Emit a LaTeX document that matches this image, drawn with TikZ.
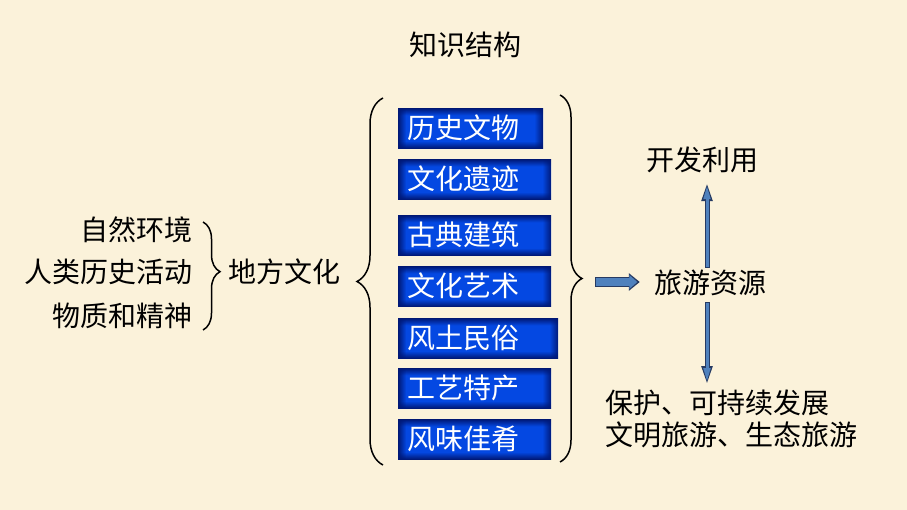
\documentclass[tikz,border=0pt]{standalone}
\usepackage{fontspec}
\newfontfamily\cjk{Noto Sans CJK SC}
\usetikzlibrary{arrows.meta,decorations.pathreplacing,fadings,calc}

\definecolor{paper}{RGB}{251,242,218}
\definecolor{boxedge}{RGB}{0,24,118}
\definecolor{boxmid}{RGB}{4,72,226}
\definecolor{arrowfill}{RGB}{79,129,189}
\definecolor{arrowline}{RGB}{38,58,98}

\pgfdeclareverticalshading{boxshade}{100bp}{color(0bp)=(boxedge); color(25bp)=(boxedge); color(34bp)=(boxmid); color(66bp)=(boxmid); color(75bp)=(boxedge); color(100bp)=(boxedge)}
\tikzfading[name=edgefadeL, left color=transparent!0, right color=transparent!100]
\tikzfading[name=edgefadeR, left color=transparent!100, right color=transparent!0]

\begin{document}
\begin{tikzpicture}[
    x=1pt, y=-1pt,
    font=\cjk\fontsize{28}{32}\selectfont,
    txt/.style={inner sep=0pt, text=black},
    culture/.style={shading=boxshade, anchor=north west, minimum height=40pt,
        inner xsep=9pt, inner ysep=0pt, align=left, text=white},
    bracket/.style={decorate, decoration={brace, amplitude=#1}, line width=1.5pt},
    vshaft/.style={draw=arrowline, line width=5pt, -{Triangle[length=19pt, width=10pt]}},
    vcore/.style={draw=arrowfill, line width=3pt, -{Triangle[length=14pt, width=6.5pt]}},
    hshaft/.style={draw=arrowline, line width=10pt, -{Triangle[length=11pt, width=17pt]}},
    hcore/.style={draw=arrowfill, line width=8pt, -{Triangle[length=8pt, width=13.5pt]}},
]
% Canvas
\useasboundingbox (0,0) rectangle (907,510);
\fill[paper] (0,0) rectangle (907,510);

% Title
\node[txt] (title) at (465,45) {知识结构};

% Left column: what shapes local culture
\foreach \n/\tok/\y in {1/自然环境/230, 2/人类历史活动/272, 3/物质和精神/316} {
    \node[txt, anchor=east] (src\n) at (193,\y) {\tok};
}
\node[txt, anchor=west] (local) at (228,272) {地方文化};
\draw[bracket=17pt, decoration={aspect=0.46}] (203,222) -- (203,330);

% Blue boxes: kinds of local culture
\foreach \n/\tok/\top/\w in {1/历史文物/108/145, 2/文化遗迹/159/153, 3/古典建筑/215/153,
    4/文化艺术/266/153, 5/风土民俗/318/160, 6/工艺特产/368/153, 7/风味佳肴/419/153} {
    \pgfmathsetmacro\tw{\w-18}
    \node[culture, text width=\tw pt] (c\n) at (398,\top) {\tok};
    \fill[boxedge, path fading=edgefadeL] (c\n.north west) rectangle ([xshift=8pt]c\n.south west);
    \fill[boxedge, path fading=edgefadeR] ([xshift=-9pt]c\n.north east) rectangle (c\n.south east);
}

% Big braces round the boxes
\coordinate (lbtop) at (383,98);
\coordinate (lbbot) at (383,465);
\draw[bracket=26pt] (lbbot) -- (lbtop);
\coordinate (rbtop) at (560,95);
\coordinate (rbbot) at (560,462);
\draw[bracket=22pt] (rbtop) -- (rbbot);
\coordinate (rbtip) at (582,282);

% Right side
\node[txt] (res) at (710,283) {旅游资源};
\node[txt] (dev) at (702,160) {开发利用};
\node[txt, anchor=north west, align=left] (protect) at (605,390) {保护、可持续发展\\文明旅游、生态旅游};

% Block arrow into tourism resources
\draw[hshaft, shorten <=13pt, shorten >=14pt] (rbtip) -- (rbtip -| res.west);
\draw[hcore, shorten <=14pt, shorten >=16.5pt] (rbtip) -- (rbtip -| res.west);

% Up and down arrows
\coordinate (upfrom) at ([xshift=-3pt]res.north);
\coordinate (upto) at (upfrom |- dev.south);
\draw[vshaft, shorten <=2pt, shorten >=9pt] (upfrom) -- (upto);
\draw[vcore, shorten <=3pt, shorten >=12pt] (upfrom) -- (upto);
\coordinate (dnfrom) at ([xshift=-3pt]res.south);
\coordinate (dnto) at (dnfrom |- protect.north);
\draw[vshaft, shorten <=6pt, shorten >=5pt] (dnfrom) -- (dnto);
\draw[vcore, shorten <=7pt, shorten >=8pt] (dnfrom) -- (dnto);

\end{tikzpicture}
\end{document}
